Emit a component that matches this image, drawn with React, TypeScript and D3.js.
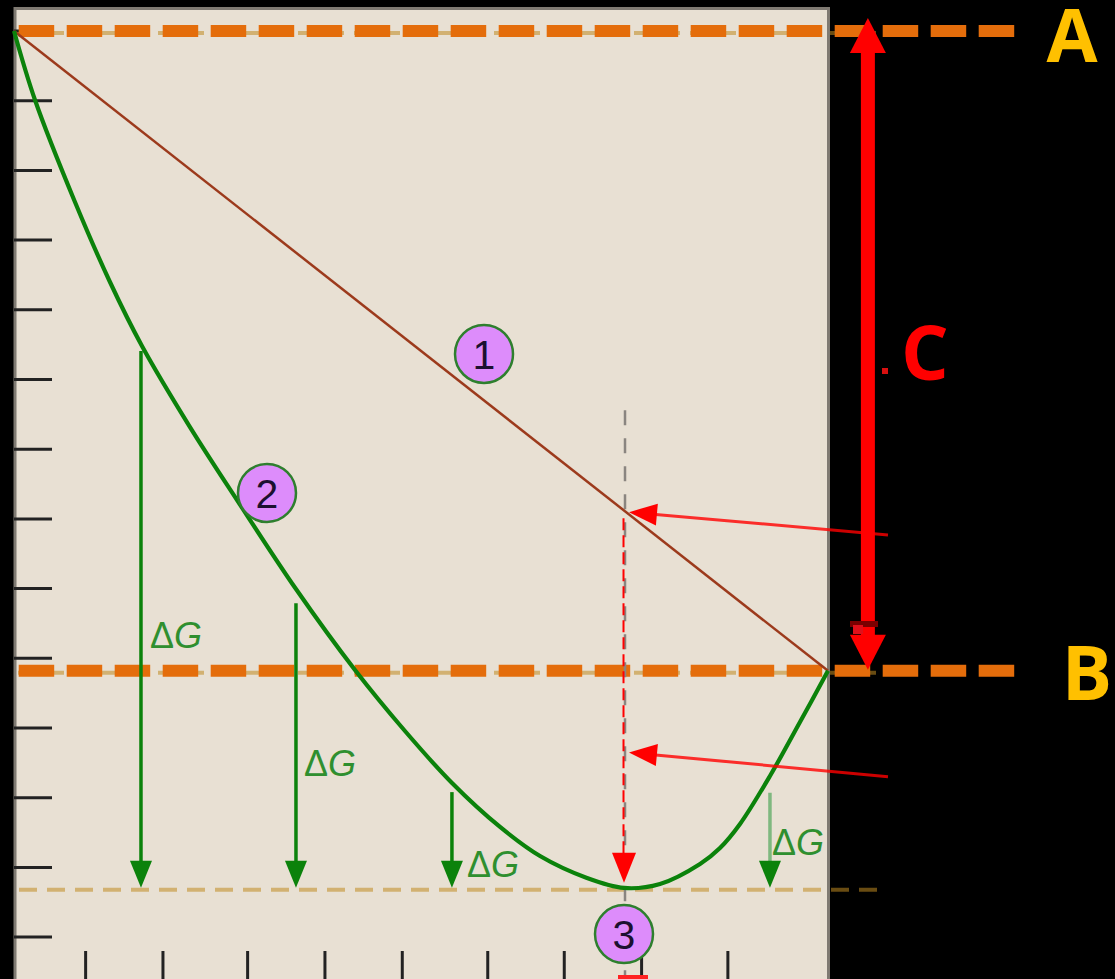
import React from 'react';
import * as d3 from 'd3';

const W = 1115;
const H = 979;

// Reaction progress (0 = pure A, 1 = pure B) and Gibbs energy read along the path
const progress = [0, 0.0258, 0.0749, 0.1179, 0.1572, 0.2162, 0.274, 0.3464, 0.4189, 0.4803, 0.5381, 0.5971, 0.6462, 0.7039, 0.7494, 0.7936, 0.8428, 0.8673, 0.8919, 0.9287, 0.9656, 1.0];
const gibbs = [13.0, 12.01, 10.547, 9.399, 8.481, 7.318, 6.271, 4.994, 3.832, 2.957, 2.211, 1.58, 1.163, 0.848, 0.705, 0.762, 1.049, 1.278, 1.623, 2.312, 3.086, 3.82];

// Energy levels
const gA = 13;
const gB = 3.82;
const gEq = 0.68;
const xEq = 0.7494;

// Axis tick positions
const progressTicks = [0.088, 0.183, 0.287, 0.382, 0.477, 0.582, 0.676, 0.771, 0.877];

// ΔG arrows: position, top value and label level
const dgX = [0.156, 0.3464, 0.538, 0.9287];
const dgTop = [8.41, 4.79, 2.08, 2.07];
const dgLabelG = [4.15, 2.31, 0.86, 1.18];
const dgLabelDx = [9, 8, 15, 2];

// Numbered markers
const markerLabels = ['1', '2', '3'];
const markerX = [0.5774, 0.3108, 0.7494];
const markerG = [8.366, 6.372, 0.044];

// Red pointers (from the right margin to the equilibrium guide)
const pointerFromX = 1.0737;
const pointerFromG = [5.77, 2.3];
const pointerToX = 0.7555;
const pointerToG = [6.097, 2.65];

// Span arrow between A and B
const spanX = 1.049;
const guideTopG = 7.56;

const xs = d3.scaleLinear().domain([0, 1]).range([14, 828]);
const ys = d3.scaleLinear().domain([0, 13]).range([937.1, 31]);

function head(tipX: number, tipY: number, fromX: number, fromY: number, len: number, half: number) {
  const dx = tipX - fromX;
  const dy = tipY - fromY;
  const d = Math.hypot(dx, dy) || 1;
  const ux = dx / d;
  const uy = dy / d;
  const bx = tipX - ux * len;
  const by = tipY - uy * len;
  const px = -uy * half;
  const py = ux * half;
  return `${tipX},${tipY} ${bx + px},${by + py} ${bx - px},${by - py}`;
}

export default function App() {
  const curvePath = d3
    .line<number>()
    .x((_, i) => xs(progress[i]))
    .y((g) => ys(g))
    .curve(d3.curveCatmullRom.alpha(0.5))(gibbs) as string;

  const panelLeft = xs(0);
  const panelRight = xs(1);
  const orange = '#e46d0b';
  const tan = 'rgba(192,138,32,0.55)';
  const green = '#0b820b';
  const red = '#ff0000';

  const eqX = xs(xEq);
  const spanPx = xs(spanX);

  return (
    <div style={{ position: 'absolute', left: 0, top: 0, width: W, height: H, background: '#000' }}>
      <svg width={W} height={H} style={{ display: 'block' }}>
        <defs>
          <clipPath id="panel">
            <rect x={panelLeft + 2} y={10} width={panelRight - panelLeft - 3.5} height={H} />
          </clipPath>
        </defs>
        <rect x={0} y={0} width={W} height={H} fill="#000" />
        <rect x={panelLeft + 1} y={8.5} width={panelRight - panelLeft - 0.5} height={H + 10} fill="#e8e0d3" stroke="#7f7a72" strokeWidth={3} />

        {/* faint level lines beneath the main dashes */}
        {[gA, gB].map((g, i) => (
          <line key={'t' + i} x1={panelLeft + 4} x2={880} y1={ys(g) + 2} y2={ys(g) + 2} stroke={tan} strokeWidth={4} strokeDasharray="18 10" />
        ))}
        <line x1={panelLeft + 5} x2={880} y1={ys(gEq)} y2={ys(gEq)} stroke={tan} strokeWidth={4} strokeDasharray="18 10" />

        {/* energy ticks */}
        {ys.ticks(13).map((t) => (
          <line key={'gy' + t} x1={panelLeft} x2={52} y1={ys(t)} y2={ys(t)} stroke="#222" strokeWidth={3} />
        ))}
        {progressTicks.map((t) => (
          <line key={'px' + t} x1={xs(t)} x2={xs(t)} y1={951} y2={H} stroke="#222" strokeWidth={3} />
        ))}

        {/* A and B levels */}
        {[gA, gB].map((g, i) => (
          <line key={'o' + i} x1={18.7} x2={1015} y1={ys(g)} y2={ys(g)} stroke={orange} strokeWidth={12} strokeDasharray="35.5 12.5" />
        ))}

        {/* equilibrium guide */}
        <line x1={eqX + 1} x2={eqX + 1} y1={ys(guideTopG)} y2={H} stroke="#8a8580" strokeWidth={2.5} strokeDasharray="15 13" />

        {/* straight path between pure A and pure B */}
        <line x1={xs(0)} y1={ys(gA)} x2={xs(1)} y2={ys(gB)} stroke="#9c3a1c" strokeWidth={2.5} />

        {/* ΔG arrows */}
        <g clipPath="url(#panel)">
          {dgX.map((x, i) => {
            const px = xs(x);
            const tip = ys(gEq) - 2;
            const shaftColor = i === 3 ? '#7fb87f' : green;
            return (
              <g key={'dg' + i}>
                <line x1={px} x2={px} y1={ys(dgTop[i])} y2={tip - 24} stroke={shaftColor} strokeWidth={3.5} />
                <polygon points={head(px, tip, px, tip - 30, 27, 11)} fill={green} />
                <text x={px + dgLabelDx[i]} y={ys(dgLabelG[i])} fill="#2f8f2f" fontFamily="Liberation Sans, Arial, sans-serif" fontSize={36}>
                  Δ<tspan fontStyle="italic">G</tspan>
                </text>
              </g>
            );
          })}
        </g>

        {/* Gibbs energy along the reaction */}
        <path d={curvePath} fill="none" stroke={green} strokeWidth={4.2} strokeLinejoin="round" />

        {/* red equilibrium drop */}
        <line x1={eqX - 0.5} x2={eqX - 0.5} y1={ys(pointerToG[0]) + 6} y2={ys(gEq) - 30} stroke={red} strokeWidth={2} strokeDasharray="12 5" />
        <polygon points={head(eqX, ys(gEq) - 7, eqX, ys(gEq) - 40, 30, 12)} fill={red} />
        <rect x={618} y={975} width={30} height={6} fill="#f22" />

        {/* red pointers */}
        {pointerFromG.map((g, i) => {
          const x0 = xs(pointerFromX);
          const y0 = ys(g);
          const x1 = xs(pointerToX);
          const y1 = ys(pointerToG[i]);
          const d = Math.hypot(x1 - x0, y1 - y0);
          const bx = x1 - ((x1 - x0) / d) * 24;
          const by = y1 - ((y1 - y0) / d) * 24;
          return (
            <g key={'rp' + i}>
              <line x1={x0} y1={y0} x2={bx} y2={by} stroke={red} strokeOpacity={0.8} strokeWidth={3} />
              <polygon points={head(x1, y1, x0, y0, 28, 11)} fill={red} />
            </g>
          );
        })}

        {/* span between A and B */}
        <line x1={spanPx} x2={spanPx} y1={ys(gA) + 20} y2={ys(gB) - 32} stroke={red} strokeWidth={14} />
        <polygon points={head(spanPx, ys(gA) - 13, spanPx, ys(gA) + 30, 35, 18)} fill={red} />
        <polygon points={head(spanPx, ys(gB) - 1, spanPx, ys(gB) - 40, 35, 18)} fill={red} />
        <rect x={850} y={621} width={28} height={6} fill="#7a0000" />
        <rect x={853} y={625} width={10} height={9} fill="#e0101a" />
        <rect x={882} y={368} width={6} height={6} fill="#d81010" />

        {/* numbered markers */}
        {markerLabels.map((m, i) => (
          <g key={'m' + i}>
            <circle cx={xs(markerX[i])} cy={ys(markerG[i])} r={29} fill="#dd8cfb" stroke="#2e7f2e" strokeWidth={2.5} />
            <text x={xs(markerX[i])} y={ys(markerG[i]) + 15} textAnchor="middle" fill="#1c1030" fontFamily="Liberation Sans, Arial, sans-serif" fontSize={41}>
              {m}
            </text>
          </g>
        ))}

        {/* level and span labels */}
        <text x={1072} y={62} textAnchor="middle" fill="#ffc000" fontFamily="Open Sans, Liberation Sans, sans-serif" fontWeight="bold" fontSize={74}>A</text>
        <text x={1087} y={700} textAnchor="middle" fill="#ffc000" fontFamily="Open Sans, Liberation Sans, sans-serif" fontWeight="bold" fontSize={75}>B</text>
        <text x={925} y={380} textAnchor="middle" fill={red} fontFamily="Open Sans, Liberation Sans, sans-serif" fontWeight="bold" fontSize={75}>C</text>
      </svg>
    </div>
  );
}
